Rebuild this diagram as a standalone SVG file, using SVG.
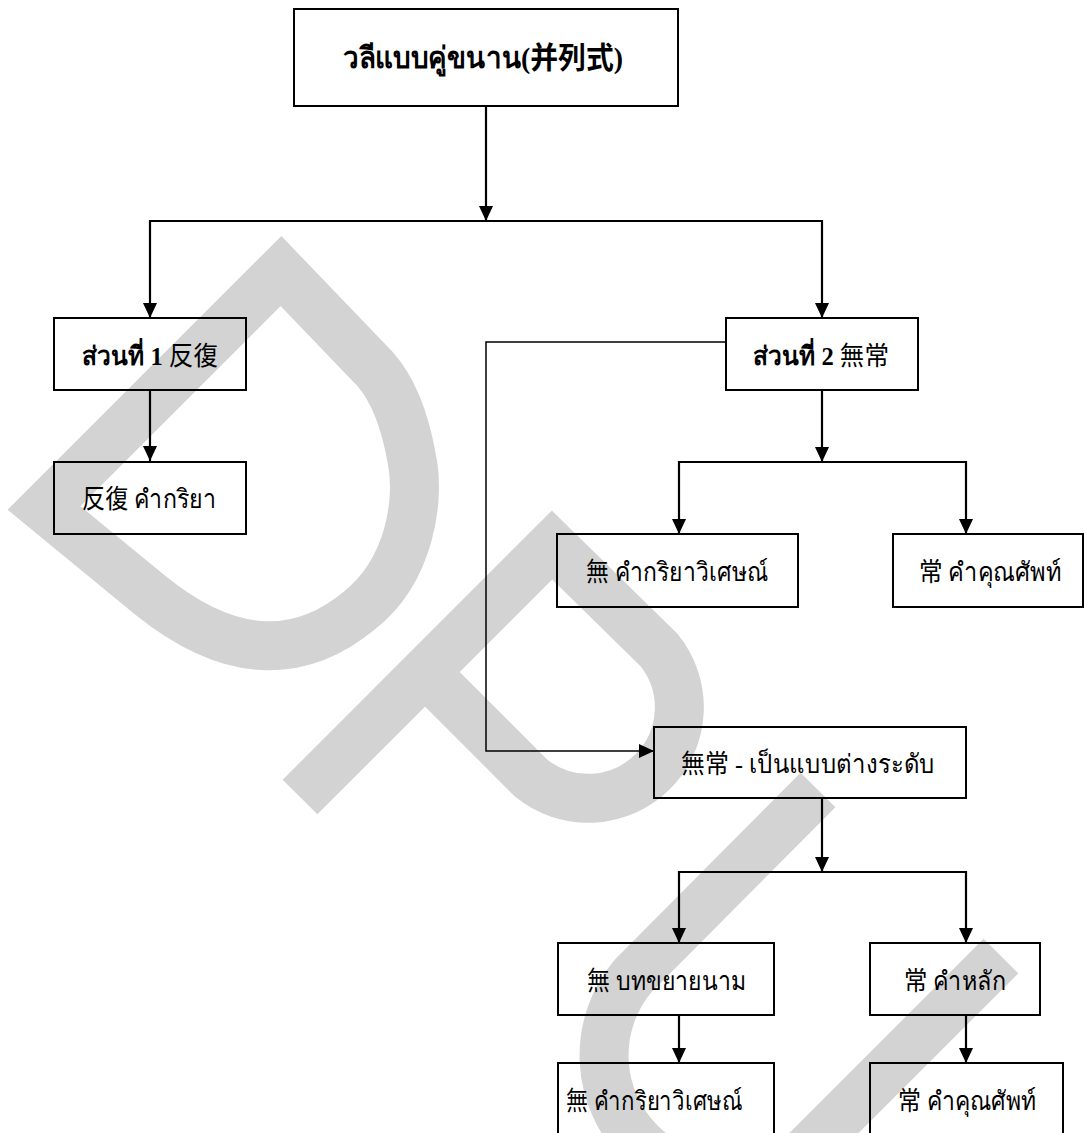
<svg xmlns="http://www.w3.org/2000/svg" width="1084" height="1133" viewBox="0 0 1084 1133">
  <defs>
    <marker id="arrow" markerUnits="userSpaceOnUse" markerWidth="15" markerHeight="14" viewBox="0 0 15 14" refX="15" refY="7" orient="auto">
      <path d="M0,0 L15,7 L0,14 Z" fill="#000"/>
    </marker>
    <style>
      .bg { fill: #ffffff; }
      .mark { fill: none; stroke: #d3d3d3; stroke-width: 49; stroke-linejoin: miter; stroke-miterlimit: 6; stroke-linecap: butt; }
      .box { fill: none; stroke: #000; stroke-width: 2; }
      .wire { fill: none; stroke: #000; stroke-width: 2.2; }
      .thin { fill: none; stroke: #000; stroke-width: 1.5; }
      .arr { marker-end: url(#arrow); }
      text { font-family: "Liberation Serif", "Noto Sans CJK TC", "Noto Sans CJK SC", serif; font-size: 26px; fill: #000; }
      .title { font-size: 30px; font-weight: bold; }
      .b { font-weight: bold; }
    </style>
  </defs>

  <rect class="bg" x="0" y="0" width="1084" height="1133"/>

  <!-- background watermark strokes -->
  <g id="watermark">
    <path class="mark" d="M281 271 L44 508 L150 595 C230 660 300 660 360 610 C410 570 420 500 412 460 C405 420 392 388 375 369 Z"/>
    <path class="mark" d="M300 797 L552 545 L659 650 A91 91 0 0 1 531 778 L425 672"/>
    <path class="mark" d="M818 790 L633 976 A123.5 123.5 0 0 0 807 1150 L1001 956"/>
  </g>

  <!-- connectors -->
  <g id="connectors">
    <path class="wire arr" d="M486 106 V221"/>
    <path class="wire arr" d="M486 221 H150 V318"/>
    <path class="wire arr" d="M486 221 H822 V318"/>
    <path class="wire arr" d="M150 390 V461"/>
    <path class="wire arr" d="M822 390 V462"/>
    <path class="wire arr" d="M822 462 H679 V534"/>
    <path class="wire arr" d="M822 462 H966 V534"/>
    <path class="thin arr" d="M726 342 H486 V751 H654"/>
    <path class="wire arr" d="M822 798 V872"/>
    <path class="wire arr" d="M822 872 H679 V943"/>
    <path class="wire arr" d="M822 872 H966 V943"/>
    <path class="wire arr" d="M679 1015 V1063"/>
    <path class="wire arr" d="M966 1015 V1063"/>
  </g>

  <g id="root">
    <rect class="box" x="294" y="9" width="384" height="97"/>
    <text class="title" x="343" y="68" textLength="280" lengthAdjust="spacingAndGlyphs">วลีแบบคู่ขนาน(并列式)</text>
  </g>

  <g id="part1">
    <rect class="box" x="54" y="318" width="192" height="72"/>
    <text x="82" y="365" textLength="136" lengthAdjust="spacingAndGlyphs"><tspan class="b">ส่วนที่ 1</tspan> 反復</text>
  </g>

  <g id="part1-verb">
    <rect class="box" x="54" y="462" width="192" height="72"/>
    <text x="82" y="508" textLength="134" lengthAdjust="spacingAndGlyphs">反復 คำกริยา</text>
  </g>

  <g id="part2">
    <rect class="box" x="726" y="318" width="192" height="72"/>
    <text x="753" y="365" textLength="136" lengthAdjust="spacingAndGlyphs"><tspan class="b">ส่วนที่ 2</tspan> 無常</text>
  </g>

  <g id="part2-adverb">
    <rect class="box" x="557" y="534" width="241" height="73"/>
    <text x="586" y="581" textLength="182" lengthAdjust="spacingAndGlyphs">無 คำกริยาวิเศษณ์</text>
  </g>

  <g id="part2-adjective">
    <rect class="box" x="893" y="534" width="190" height="73"/>
    <text x="919" y="581" textLength="142" lengthAdjust="spacingAndGlyphs">常 คำคุณศัพท์</text>
  </g>

  <g id="levels">
    <rect class="box" x="654" y="727" width="312" height="71"/>
    <text x="681" y="773" textLength="254" lengthAdjust="spacingAndGlyphs">無常 - เป็นแบบต่างระดับ</text>
  </g>

  <g id="modifier">
    <rect class="box" x="558" y="943" width="216" height="72"/>
    <text x="587" y="990" textLength="159" lengthAdjust="spacingAndGlyphs">無 บทขยายนาม</text>
  </g>

  <g id="head">
    <rect class="box" x="870" y="943" width="170" height="72"/>
    <text x="904" y="990" textLength="102" lengthAdjust="spacingAndGlyphs">常 คำหลัก</text>
  </g>

  <g id="modifier-adverb">
    <rect class="box" x="558" y="1063" width="216" height="80"/>
    <text x="566" y="1110" textLength="176" lengthAdjust="spacingAndGlyphs">無 คำกริยาวิเศษณ์</text>
  </g>

  <g id="head-adjective">
    <rect class="box" x="870" y="1063" width="193" height="80"/>
    <text x="898" y="1110" textLength="138" lengthAdjust="spacingAndGlyphs">常 คำคุณศัพท์</text>
  </g>
</svg>
